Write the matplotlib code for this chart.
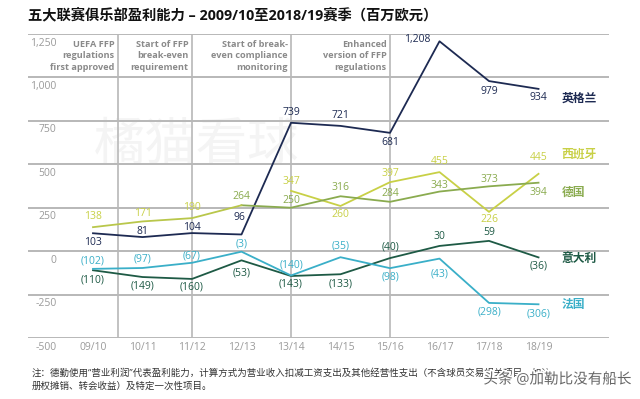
import matplotlib
matplotlib.use('Agg')
import matplotlib.pyplot as plt
import matplotlib.patheffects as pe
import numpy as np

plt.rcParams['font.family'] = ['Open Sans', 'Noto Sans CJK SC', 'DejaVu Sans']

# 数据
seasons = ['09/10', '10/11', '11/12', '12/13', '13/14', '14/15', '15/16', '16/17', '17/18', '18/19']
england = [103, 81, 104, 96, 739, 721, 681, 1208, 979, 934]
spain = [np.nan, np.nan, np.nan, np.nan, 347, 260, 397, 455, 226, 445]
germany = [138, 171, 190, 264, 250, 316, 284, 343, 373, 394]
italy = [-110, -149, -160, -53, -143, -133, -40, 30, 59, -36]
france = [-102, -97, -67, -3, -140, -35, -98, -43, -298, -306]
y_ticks = [1250, 1000, 750, 500, 250, 0, -250, -500]
milestones = [0.5, 2, 4, 6]
milestone_text = [['UEFA FFP', 'regulations', 'first approved'],
                  ['Start of FFP', 'break-even', 'requirement'],
                  ['Start of break-', 'even compliance', 'monitoring'],
                  ['Enhanced', 'version of FFP', 'regulations']]

# 颜色
c_eng = '#1d2a52'
c_esp = '#c8d046'
c_ger = '#8aab4f'
c_ita = '#1e5a45'
c_fra = '#3aafc8'
c_early = '#b9c74b'
grid_c = '#b8b8b8'

# 标签偏移 (像素, 正为向上)
off_eng = [(0, -9), (0, 6), (0, 6), (-2, 17), (0, 10), (0, 10), (0, -10), (-22, 2), (0, -10), (0, -9)]
off_esp = [None] * 4 + [(0, 9), (0, -9), (0, 9), (0, 11), (0, -8), (0, 16)]
off_ger = [(0, 11), (0, 8), (0, 11), (0, 9), (0, 7), (0, 9), (0, 8), (0, 6), (0, 7), (0, -10)]
off_ita = [(0, -10), (0, -9), (0, -8), (0, -13), (0, -8), (0, -10), (0, 11), (0, 9), (0, 8), (0, -9)]
off_fra = [(0, 8), (0, 9), (0, 7), (0, 8), (0, 10), (0, 11), (0, -9), (0, -15), (0, -9), (0, -10)]


def fmt(v):
    if v < 0:
        return '({:,})'.format(-v)
    return '{:,}'.format(v)


fig = plt.figure(figsize=(6.4, 3.99), dpi=100)
ax = fig.add_axes([28 / 640, 61 / 399, 581 / 640, 304 / 399])
x = np.arange(len(seasons))
ax.set_xlim(-1.313, 10.424)
ax.set_ylim(-500, 1250)

for yv in y_ticks:
    ax.axhline(yv, color=grid_c, lw=1.4, zorder=1)
    ax.text(-0.74, yv - 52, '{:,}'.format(yv), ha='right', va='center', fontsize=7.5, color='#9a9a9a')
for mx, mt in zip(milestones, milestone_text):
    ax.axvline(mx, color=grid_c, lw=1.2, zorder=1)
    for k, line in enumerate(mt):
        ax.text(mx - 0.07, 1190 - k * 66, line, ha='right', va='center', fontsize=6.6,
                color='#8a8a8a', fontweight='bold')

ax.text(2.1, 600, '橘猫看球', fontsize=37, color='#f4f4f4', ha='center', va='center', zorder=0)

lw = 1.3
ax.plot(x, england, color=c_eng, lw=lw, zorder=3)
ax.plot(x, spain, color=c_esp, lw=lw, zorder=3)
ax.plot(x[3:], germany[3:], color=c_ger, lw=lw, zorder=3)
ax.plot(x[:4], germany[:4], color=c_early, lw=lw, zorder=3)
ax.plot(x, italy, color=c_ita, lw=lw, zorder=3)
ax.plot(x, france, color=c_fra, lw=lw, zorder=3)

series = [(england, off_eng, c_eng), (spain, off_esp, c_esp), (germany, off_ger, c_ger),
          (italy, off_ita, c_ita), (france, off_fra, c_fra)]
for vals, offs, col in series:
    for i, v in enumerate(vals):
        if np.isnan(v):
            continue
        dx, dy = offs[i]
        tc = col
        if vals is germany and i < 3:
            tc = c_esp
        ax.annotate(fmt(int(v)), (x[i], v), xytext=(dx * 0.72, dy * 0.72), textcoords='offset points',
                    ha='center', va='center', fontsize=7.5, color=tc, zorder=4)

names = [('英格兰', 880, c_eng), ('西班牙', 560, c_esp), ('德国', 340, c_ger),
         ('意大利', -45, c_ita), ('法国', -305, c_fra)]
for nm, yv, col in names:
    ax.text(9.47, yv, nm, ha='left', va='center', fontsize=8.5, color=col, fontweight='bold')

ax.set_xticks(x)
ax.set_xticklabels(seasons, fontsize=7.5, color='#9a9a9a')
ax.tick_params(axis='x', length=0, pad=3)
ax.set_yticks([])
for s in ax.spines.values():
    s.set_visible(False)

fig.text(28 / 640, 1 - 15 / 399, '五大联赛俱乐部盈利能力 – 2009/10至2018/19赛季（百万欧元）',
         fontsize=10.3, fontweight='bold', color='#111111', va='center', ha='left')
fig.text(32 / 640, 1 - 379 / 399,
         '注：德勤使用“营业利润”代表盈利能力，计算方式为营业收入扣减工资支出及其他经营性支出（不含球员交易相关项目，如注\n'
         '册权摊销、转会收益）及特定一次性项目。',
         fontsize=6.8, color='#333333', va='center', ha='left', linespacing=1.5)
fig.text(632 / 640, 1 - 380 / 399, '头条 @加勒比没有船长', fontsize=10.5, color='#666666',
         ha='right', va='center',
         path_effects=[pe.withStroke(linewidth=2.5, foreground='white')])

fig.savefig('out.png', dpi=100)
